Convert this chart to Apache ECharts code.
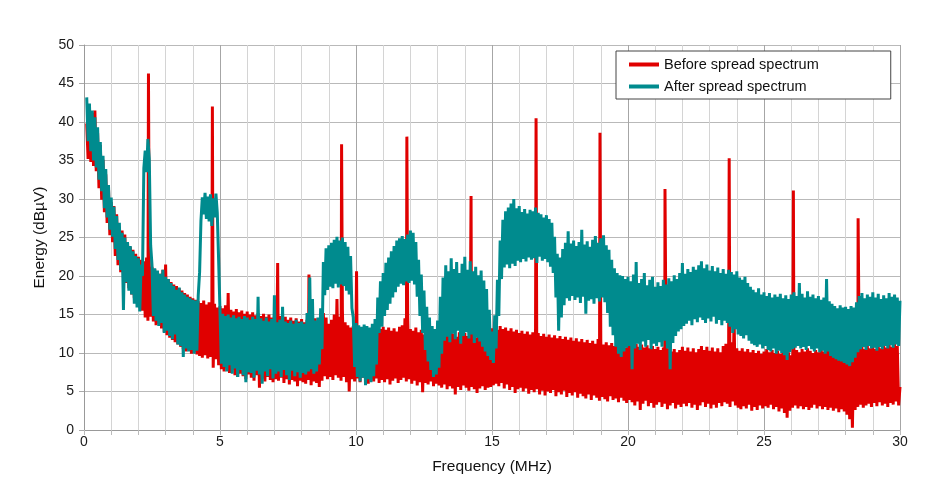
<!DOCTYPE html>
<html>
<head>
<meta charset="utf-8">
<script src="https://cdn.jsdelivr.net/npm/echarts@6/dist/echarts.min.js"></script>
<style>html,body{margin:0;padding:0;background:#fff;}#c{width:941px;height:489px;}</style>
</head>
<body>
<div id="c"></div>
<script>
// Frequency grid: first sample (MHz) and spacing (MHz) of the sweep
const startFreq = 0.1;
const freqStep = 0.05;

const seriesNames = ['Before spread spectrum', 'After spread spectrum'];
const xTickLabels = [0, 5, 10, 15, 20, 25, 30];
const yTickLabels = [0, 5, 10, 15, 20, 25, 30, 35, 40, 45, 50];

// Before spread spectrum (dBµV), one row per MHz
const before = [
39.8,35.2,40.4,34.8,41.2,34.3,41.5,33.6,38.6,31.4,37.0,29.9,35.1,28.3,33.2,26.9,31.5,25.3,29.6,24.4,
29.1,22.6,28.0,21.4,26.4,20.5,25.9,19.7,25.4,19.1,24.3,18.4,23.8,17.6,23.4,17.1,22.9,16.6,22.5,15.9,
22.1,15.5,21.9,14.6,22.4,14.2,21.6,14.7,21.2,14.1,20.9,13.6,20.6,13.8,20.3,13.2,20.8,12.7,21.5,12.3,
19.6,12.0,19.2,11.7,18.9,11.4,18.7,11.1,18.4,10.8,18.1,10.5,17.8,10.2,17.6,10.4,17.3,9.9,17.1,10.1,
16.9,9.8,16.7,9.6,16.5,9.4,16.8,9.7,16.3,9.3,16.6,9.5,16.2,8.1,16.4,9.2,15.9,8.4,16.1,7.9,
15.8,7.6,16.2,8.0,17.8,7.4,15.6,7.8,15.4,7.1,15.7,6.9,15.3,7.3,15.5,7.0,15.1,6.6,15.4,7.2,
15.0,6.8,15.3,6.4,14.9,7.1,15.2,5.5,14.8,6.7,15.1,6.3,14.7,6.9,15.0,6.5,14.6,6.2,14.9,6.6,
14.5,6.4,14.8,6.8,14.4,6.1,14.7,6.6,14.3,5.9,14.6,6.5,14.2,6.3,14.5,5.7,14.1,6.4,14.4,6.2,
14.0,6.0,14.3,6.5,14.6,5.8,14.2,6.3,14.5,6.1,14.1,5.6,14.4,6.4,15.2,7.0,14.6,6.6,13.8,6.9,
14.3,6.5,15.0,7.1,17.0,6.8,14.7,6.4,15.6,6.9,14.0,6.2,13.6,5.0,13.3,6.6,13.5,6.3,13.2,6.7,
13.4,6.2,13.1,6.8,13.3,6.4,12.9,6.0,13.2,6.6,12.8,6.3,13.0,6.7,13.5,6.1,13.1,6.5,13.4,6.2,
13.0,6.6,13.3,5.9,12.9,6.4,13.2,6.7,12.8,6.1,13.4,6.5,13.6,6.8,14.5,6.3,14.9,6.6,13.1,6.0,
12.9,6.4,13.3,5.8,12.7,6.2,13.0,4.9,12.4,6.1,12.1,5.9,11.8,6.3,12.2,5.7,11.9,6.0,12.3,5.8,
12.6,5.5,12.2,5.9,12.8,5.3,12.4,5.7,12.9,5.4,12.5,4.6,12.1,5.6,12.7,5.2,12.3,5.8,12.6,5.5,
12.2,5.1,12.8,5.6,12.4,5.3,12.0,4.8,12.5,5.4,12.1,5.7,12.6,5.2,12.3,5.5,12.9,5.6,13.2,5.8,
13.4,6.0,13.0,5.7,13.5,6.1,13.1,5.4,13.3,5.9,12.9,5.2,13.2,5.6,12.8,4.8,13.0,5.3,12.6,5.5,
12.9,5.0,12.5,5.4,12.8,4.7,12.4,5.2,12.7,4.9,12.3,5.3,12.6,4.6,12.2,5.1,12.5,4.5,12.1,5.0,
12.4,4.8,12.0,5.2,12.3,4.4,11.9,4.9,12.2,4.6,11.8,5.1,12.1,4.3,11.7,4.8,12.0,4.5,11.6,4.9,
11.9,4.2,11.5,4.7,11.8,4.4,11.4,4.1,11.7,4.6,11.3,3.9,11.6,4.5,11.2,4.2,11.8,3.8,11.5,4.3,
11.1,4.0,11.4,3.7,11.0,4.4,11.3,3.9,10.9,4.1,11.2,3.6,10.8,4.2,11.1,3.8,10.7,3.5,11.0,3.9,
11.3,3.6,10.9,3.2,11.2,3.7,10.8,2.6,11.1,3.4,10.7,3.8,11.0,3.1,10.6,3.5,10.9,2.9,10.5,3.3,
10.8,3.6,10.4,3.0,10.7,3.4,10.3,2.7,10.6,3.2,10.2,3.5,10.5,2.8,10.1,3.3,10.4,3.0,10.8,3.4,
10.3,3.1,10.7,3.5,10.2,2.9,10.6,3.3,10.1,2.6,10.5,3.2,10.9,3.6,10.4,3.0,10.8,3.4,10.3,2.8,
10.7,3.3,10.2,2.9,10.6,3.5,10.1,3.1,10.9,3.6,11.2,3.4,10.8,3.0,11.4,3.7,14.6,3.2,10.6,2.9,
10.3,2.7,10.6,3.1,10.2,2.8,10.5,3.3,10.1,2.5,10.4,3.0,10.0,2.6,10.3,3.2,9.9,2.8,10.2,3.1,
10.5,2.9,10.1,3.3,10.4,2.7,10.0,3.0,10.3,2.4,9.9,2.8,10.2,2.2,9.8,1.6,10.1,2.5,9.7,2.9,
10.0,3.2,10.4,2.8,10.1,3.1,10.5,2.7,10.2,3.0,10.6,2.6,10.3,2.9,10.0,3.3,10.4,2.8,10.1,3.1,
10.5,2.7,10.2,3.0,10.6,2.6,10.3,2.9,10.0,2.5,10.4,2.8,9.9,2.3,10.2,2.7,9.8,2.4,10.1,2.0,
9.7,1.4,10.0,0.3,10.3,2.6,10.6,3.0,10.4,3.3,10.8,2.9,10.5,3.2,10.9,3.4,10.6,3.0,10.8,3.5,
10.5,3.1,10.9,3.6,10.6,3.2,11.0,3.4,10.7,3.0,11.1,3.5,10.8,3.3,11.2,3.7,10.9,3.2,5.6
];

// Clock harmonics in the "before" trace: frequency (MHz) and peak level (dBµV)
const harmonicFreq = [2.37, 4.72, 7.12, 8.27, 9.47, 10.02, 11.87, 14.23, 16.62, 18.97, 21.36, 23.72, 26.08, 28.46];
const harmonicPeak = [46.3, 42.0, 21.7, 20.2, 37.1, 20.6, 38.1, 30.4, 40.5, 38.6, 31.3, 35.3, 31.1, 27.5];

// After spread spectrum (dBµV), one row per MHz
const after = [
43.2,37.5,42.4,36.2,41.5,35.0,40.6,34.1,39.3,32.5,37.4,31.0,35.6,28.8,33.9,27.6,31.8,26.0,30.2,25.1,
29.0,23.5,27.8,22.1,26.9,20.8,25.6,15.6,25.0,19.2,24.4,18.1,23.9,17.6,23.2,16.4,22.6,15.9,22.3,15.4,
21.5,20.0,34.0,36.3,33.5,37.8,35.2,24.0,21.4,14.8,21.0,14.2,20.7,13.5,20.3,13.9,20.8,12.6,19.9,12.9,
19.6,12.2,19.1,11.8,18.7,12.4,18.2,11.1,18.5,10.9,17.9,9.5,17.6,10.6,17.3,10.2,17.1,10.4,16.9,9.9,
16.8,10.3,17.5,20.5,27.2,30.2,28.0,30.8,27.4,30.3,27.1,30.6,26.5,30.1,27.6,30.7,28.2,22.0,15.4,8.6,
15.1,8.2,14.8,7.6,15.0,8.4,14.6,7.3,14.9,8.0,14.5,6.9,14.7,7.8,14.4,7.1,14.8,6.2,14.6,7.5,
14.3,7.4,14.7,6.8,14.4,7.7,17.3,7.2,14.5,6.0,14.2,7.6,14.6,7.0,14.1,7.9,14.4,6.7,17.5,7.3,
14.0,7.6,14.3,6.9,16.0,7.8,14.1,7.1,13.9,6.5,14.2,7.7,13.8,7.0,14.3,7.5,13.9,6.8,14.1,7.4,
13.8,7.2,15.2,7.6,19.8,7.9,17.0,7.3,14.2,7.6,14.6,8.5,15.8,10.5,21.8,17.5,23.6,18.2,24.0,18.6,
24.3,18.4,24.7,19.0,25.1,18.5,24.6,18.9,25.0,18.7,24.4,18.1,23.8,17.6,22.6,15.8,14.6,8.2,13.9,6.9,
13.6,6.3,13.4,6.8,13.7,5.8,13.5,6.6,13.3,6.2,13.8,7.0,14.4,8.5,17.2,12.6,19.3,13.4,20.4,14.8,
21.7,15.6,22.4,16.4,23.2,17.2,23.9,17.9,24.6,18.6,24.9,19.0,25.2,18.8,24.8,19.3,25.4,19.1,25.9,19.4,
25.6,18.9,24.4,17.3,22.1,14.8,20.2,12.6,18.1,10.4,16.0,8.9,14.6,7.8,13.5,6.9,13.1,7.2,14.2,8.1,
17.3,9.9,19.8,11.6,21.4,12.1,20.6,11.4,22.3,12.5,20.9,11.8,21.8,12.9,20.4,11.2,21.6,12.2,22.5,12.7,
20.8,11.9,21.9,12.4,20.6,11.3,21.2,12.0,20.1,11.5,20.7,10.8,19.4,10.2,18.3,9.6,15.6,9.1,12.8,8.7,
14.9,10.6,19.5,14.8,24.6,19.6,27.3,21.1,28.4,21.5,28.9,21.0,29.4,21.6,30.0,21.3,28.8,22.0,29.1,21.8,
28.3,22.2,28.7,21.9,28.1,22.4,28.6,22.1,28.4,22.3,28.9,21.7,28.2,22.5,28.0,22.0,27.6,22.2,27.9,21.8,
27.4,21.2,26.9,20.4,25.1,17.2,22.9,12.9,22.4,14.6,23.5,16.2,24.3,17.1,25.8,16.8,24.2,17.4,24.6,16.9,
23.9,17.2,24.4,16.5,26.0,17.3,24.1,15.1,24.5,16.8,23.8,17.0,24.7,16.4,25.2,17.1,24.3,16.7,24.9,17.2,
25.3,16.6,24.0,15.2,23.4,13.4,22.1,12.3,21.0,10.8,20.4,9.9,20.1,9.5,20.0,10.2,19.6,10.7,19.9,10.9,
19.3,7.9,20.2,10.6,21.8,11.2,19.1,10.4,19.6,11.5,20.4,10.8,18.8,11.7,19.5,10.5,19.9,11.2,18.6,10.9,
19.2,11.4,18.7,10.8,19.5,11.6,18.9,10.6,19.7,7.9,19.3,11.3,20.1,12.2,19.6,12.8,20.4,13.1,21.7,13.5,
20.3,13.8,20.9,14.2,20.5,13.6,21.2,14.4,20.8,14.0,21.4,14.6,21.9,14.3,21.0,13.9,21.5,14.5,20.7,14.1,
21.3,14.7,20.6,13.8,21.1,14.3,20.4,13.6,20.9,14.2,20.3,13.9,20.8,13.4,20.5,12.6,20.2,13.1,20.6,12.4,
19.8,12.2,19.5,11.9,19.9,12.3,19.1,11.6,18.6,11.2,18.2,11.0,17.9,10.8,18.4,11.1,17.6,10.6,17.9,10.9,
17.4,10.4,17.8,10.2,17.2,10.6,17.6,9.9,17.3,10.3,17.7,10.0,17.1,9.7,17.5,9.1,17.0,10.1,17.6,10.5,
17.9,10.7,17.4,10.9,19.1,10.6,17.7,10.8,17.2,10.4,18.0,10.9,17.3,10.5,17.6,10.2,17.1,10.6,17.4,10.1,
16.9,10.3,17.2,9.9,19.6,10.2,16.7,9.6,16.4,9.4,16.1,9.2,15.8,9.0,16.2,8.9,15.9,8.7,16.0,8.5,
15.7,8.3,16.1,8.8,15.9,9.4,16.6,10.1,17.4,10.5,17.8,10.8,17.1,10.4,17.6,10.9,17.3,10.6,17.9,10.7,
17.2,10.3,17.7,10.8,17.0,10.5,17.5,10.9,17.1,10.6,17.8,11.0,17.3,10.7,17.6,11.1,17.2,10.9,16.8
];

function toPoints(vals, extraFreq, extraVals) {
  const pts = vals.map((v, i) => [+(startFreq + i * freqStep).toFixed(2), v]);
  if (extraFreq) extraFreq.forEach((f, j) => pts.push([f, extraVals[j]]));
  pts.sort((a, b) => a[0] - b[0]);
  return pts;
}

const FONT = '"Liberation Sans", Arial, Helvetica, sans-serif';
const chart = echarts.init(document.getElementById('c'), null, {renderer: 'canvas'});
chart.setOption({
  animation: false,
  backgroundColor: '#ffffff',
  grid: {left: 84, right: 41, top: 45, bottom: 59, containLabel: false},
  legend: {
    data: seriesNames,
    orient: 'vertical',
    left: 616, top: 51,
    backgroundColor: '#ffffff',
    borderColor: '#444444', borderWidth: 1,
    padding: [6, 72, 5, 13],
    itemGap: 7,
    itemWidth: 30, itemHeight: 4,
    icon: 'rect',
    textStyle: {fontFamily: FONT, fontSize: 14.5, color: '#111111'}
  },
  xAxis: {
    type: 'value', min: 0, max: 30, interval: 1,
    name: 'Frequency (MHz)', nameLocation: 'middle', nameGap: 29,
    nameTextStyle: {fontFamily: FONT, fontSize: 15.5, color: '#111111'},
    axisLine: {show: true, onZero: false, lineStyle: {color: '#999999', width: 1}},
    axisTick: {show: true, length: 5, lineStyle: {color: '#bbbbbb'}},
    axisLabel: {
      fontFamily: FONT, fontSize: 14, color: '#1a1a1a', margin: 5,
      formatter: v => (xTickLabels.indexOf(v) >= 0 ? String(v) : '')
    },
    splitLine: {show: true, lineStyle: {color: ['#a6a6a6', '#d4d4d4', '#d4d4d4', '#d4d4d4', '#d4d4d4'], width: 1}}
  },
  yAxis: {
    type: 'value', min: 0, max: 50, interval: 5,
    name: 'Energy (dBµV)', nameLocation: 'middle', nameGap: 36,
    nameTextStyle: {fontFamily: FONT, fontSize: 15.5, color: '#111111'},
    axisLine: {show: true, lineStyle: {color: '#999999', width: 1}},
    axisTick: {show: true, length: 5, lineStyle: {color: '#aaaaaa'}},
    axisLabel: {
      fontFamily: FONT, fontSize: 14, color: '#1a1a1a', margin: 10,
      formatter: v => (yTickLabels.indexOf(v) >= 0 ? String(v) : '')
    },
    splitLine: {show: true, lineStyle: {color: '#b9b9b9', width: 1}}
  },
  series: [
    {
      name: seriesNames[0], type: 'line', showSymbol: false, symbol: 'none',
      color: '#e00000',
      lineStyle: {color: '#e00000', width: 3},
      data: toPoints(before, harmonicFreq, harmonicPeak),
      z: 2
    },
    {
      name: seriesNames[1], type: 'line', showSymbol: false, symbol: 'none',
      color: '#008b8e',
      lineStyle: {color: '#008b8e', width: 3},
      data: toPoints(after),
      z: 3
    }
  ]
});
</script>
</body>
</html>
